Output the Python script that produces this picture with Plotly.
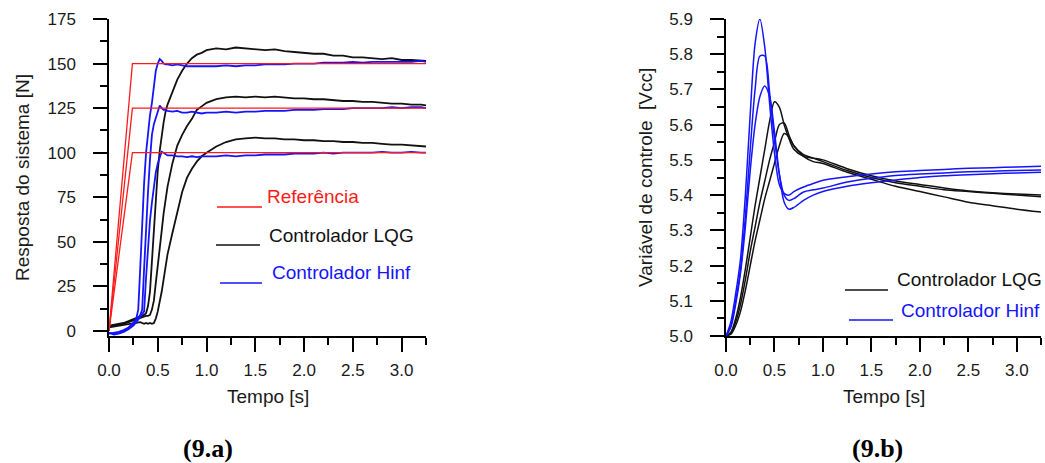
import plotly.graph_objects as go

# ---------------- data: left panel (9.a) system response [N] ----------------
T_RESP = [0.00, 0.05, 0.10, 0.15, 0.20, 0.25, 0.28, 0.30, 0.32, 0.34, 0.36, 0.38, 0.40,
          0.42, 0.44, 0.46, 0.48, 0.50, 0.52, 0.54, 0.56, 0.58, 0.60, 0.65, 0.70, 0.75,
          0.80, 0.85, 0.90, 0.95, 1.00, 1.10, 1.20, 1.30, 1.40, 1.50, 1.60, 1.70, 1.80,
          1.90, 2.00, 2.10, 2.20, 2.30, 2.40, 2.50, 2.60, 2.70, 2.80, 2.90, 3.00, 3.10,
          3.20, 3.25]

REF_T = [0.0, 0.24, 3.25]
REF_LEVELS = [100, 125, 150]

LQG_150 = [3, 3.5, 4, 4.5, 5.5, 6.5, 7, 7.5, 8, 8.5, 9, 10, 14, 22, 38, 58, 76, 90, 101, 110,
           117, 123, 127, 134, 141, 146, 150, 153, 155, 156, 157.5, 158.5, 158, 159, 158.5,
           158, 157.5, 158, 157, 156.5, 156, 155.5, 155.5, 154.5, 154.5, 153.5, 153.5, 153,
           152.5, 153, 152, 152, 151.5, 151.5]
LQG_125 = [2.5, 3, 3.5, 4, 5, 6, 6.5, 7, 7.5, 8, 8, 8.5, 8.5, 9, 12, 17, 27, 38, 47, 56, 66,
           74, 81, 94, 104, 110, 115, 119, 124, 126, 128, 130, 131, 131.5, 131, 131.5, 131,
           131.5, 131, 130.5, 130.5, 130, 130, 129.5, 129, 129, 128.5, 128.5, 128, 127.5,
           127.5, 127, 127, 126.5]
LQG_100 = [2, 2.5, 3, 3.5, 4, 4.5, 5, 5, 5, 4.5, 4, 4.5, 4, 4.5, 4, 4.5, 7, 11, 16, 22, 29,
           37, 43, 55, 67, 78, 86, 91, 95, 98, 100, 103.5, 106, 107.5, 108, 108.5, 108, 108,
           107.5, 107.5, 107, 107, 106.5, 106.5, 106, 106, 105.5, 105.5, 105, 104.5, 104.5,
           104, 103.5, 103.5]

HINF_150 = [-1, -1.5, -1, 0, 1.5, 4, 7, 12, 35, 62, 83, 100, 113, 121, 128, 139, 146, 150,
            152.5, 151.5, 150, 149.5, 149.5, 149, 149.5, 149, 148.5, 148.5, 148.5, 148.5,
            148.5, 148.5, 149, 148.5, 149, 149, 149.5, 149.5, 149.5, 150, 150, 150, 150.5,
            150.5, 150.5, 151, 150.5, 151, 151, 151, 151, 151, 151.5, 151]
HINF_125 = [-1.5, -1, -0.5, 0.5, 2, 4.5, 6, 7.5, 9, 12, 35, 60, 78, 96, 110, 116, 120, 123,
            126.5, 125, 124, 124, 123.5, 123, 123.5, 122.5, 122.5, 123, 122.5, 122, 122.5,
            122.5, 123, 122.5, 123, 123, 123.5, 123.5, 123.5, 124, 124, 124, 124.5, 124.5,
            124.5, 125, 125, 125, 125, 125.5, 125, 125.5, 125.5, 125]
HINF_100 = [-1, -2, -1.5, -0.5, 1, 3, 5, 6.5, 8, 9, 11, 30, 48, 62, 72, 81, 89, 94, 98, 100.5,
            100, 99, 98.5, 98.5, 98, 98, 97.5, 98, 97.5, 98, 98, 98, 98.5, 98, 98.5, 98.5, 99,
            99, 99, 99.5, 99.5, 99.5, 100, 99.5, 100, 100, 100, 100, 100.5, 100, 100, 100.5,
            100, 100]

# ---------------- data: right panel (9.b) control variable [Vcc] ----------------
T_CTRL = [0.0, 0.05, 0.1, 0.15, 0.2, 0.25, 0.3, 0.35, 0.4, 0.45, 0.5, 0.55, 0.6, 0.65, 0.7,
          0.8, 0.9, 1.0, 1.25, 1.5, 1.75, 2.0, 2.25, 2.5, 2.75, 3.0, 3.25]

U_LQG_A = [5.0, 5.01, 5.05, 5.11, 5.19, 5.28, 5.37, 5.45, 5.53, 5.61, 5.665, 5.65, 5.60, 5.56,
           5.53, 5.51, 5.505, 5.50, 5.475, 5.455, 5.44, 5.43, 5.42, 5.412, 5.407, 5.403, 5.40]
U_LQG_B = [5.0, 5.01, 5.04, 5.09, 5.16, 5.24, 5.31, 5.38, 5.44, 5.50, 5.55, 5.60, 5.605, 5.57,
           5.54, 5.515, 5.505, 5.495, 5.47, 5.45, 5.435, 5.425, 5.415, 5.41, 5.405, 5.40, 5.395]
U_LQG_C = [5.0, 5.005, 5.03, 5.07, 5.13, 5.20, 5.27, 5.33, 5.39, 5.44, 5.49, 5.54, 5.575, 5.565,
           5.54, 5.51, 5.495, 5.49, 5.465, 5.445, 5.425, 5.41, 5.395, 5.38, 5.37, 5.36, 5.352]

U_HINF_A = [5.0, 5.04, 5.12, 5.22, 5.40, 5.63, 5.83, 5.90, 5.82, 5.66, 5.52, 5.43, 5.405, 5.40,
            5.41, 5.423, 5.433, 5.442, 5.452, 5.46, 5.466, 5.47, 5.473, 5.476, 5.478, 5.48, 5.482]
U_HINF_B = [5.0, 5.03, 5.10, 5.19, 5.34, 5.53, 5.70, 5.795, 5.795, 5.69, 5.56, 5.46, 5.40, 5.385,
            5.39, 5.409, 5.415, 5.42, 5.437, 5.448, 5.456, 5.46, 5.463, 5.466, 5.468, 5.47, 5.471]
U_HINF_C = [5.0, 5.025, 5.09, 5.18, 5.31, 5.47, 5.60, 5.68, 5.71, 5.68, 5.58, 5.46, 5.38, 5.36,
            5.365, 5.385, 5.40, 5.41, 5.425, 5.435, 5.443, 5.45, 5.455, 5.458, 5.461, 5.463, 5.465]

# ---------------- text ----------------
X_TITLE = "Tempo [s]"
Y_TITLE_A = "Resposta do sistema [N]"
Y_TITLE_B = "Variável de controle  [Vcc]"
LEG_REF = "Referência"
LEG_LQG = "Controlador LQG"
LEG_HINF = "Controlador Hinf"
CAP_A = "(9.a)"
CAP_B = "(9.b)"

RED = "#ff1a1a"
BLACK = "#111111"
BLUE = "#1414ff"
W, H = 1045, 463
FONT = "Liberation Sans, Arial, sans-serif"


def fx(p):
    return p / W


def fy(p):
    return 1 - p / H


fig = go.Figure()

# left panel traces
for ys in (LQG_150, LQG_125, LQG_100):
    fig.add_trace(go.Scatter(x=T_RESP, y=ys, mode="lines", xaxis="x", yaxis="y",
                             line=dict(color=BLACK, width=1.8), showlegend=False))
for ys in (HINF_150, HINF_125, HINF_100):
    fig.add_trace(go.Scatter(x=T_RESP, y=ys, mode="lines", xaxis="x", yaxis="y",
                             line=dict(color=BLUE, width=1.8), showlegend=False))
for lvl in REF_LEVELS:
    fig.add_trace(go.Scatter(x=REF_T, y=[0, lvl, lvl], mode="lines", xaxis="x", yaxis="y",
                             line=dict(color=RED, width=1.3), showlegend=False))

# right panel traces
for ys in (U_LQG_A, U_LQG_B, U_LQG_C):
    fig.add_trace(go.Scatter(x=T_CTRL, y=ys, mode="lines", xaxis="x2", yaxis="y2",
                             line=dict(color=BLACK, width=1.5, shape="spline", smoothing=0.8),
                             showlegend=False))
for ys in (U_HINF_A, U_HINF_B, U_HINF_C):
    fig.add_trace(go.Scatter(x=T_CTRL, y=ys, mode="lines", xaxis="x2", yaxis="y2",
                             line=dict(color=BLUE, width=1.5, shape="spline", smoothing=0.8),
                             showlegend=False))

tickfont = dict(family=FONT, size=17, color="#1a1a1a")


def xaxis_cfg(domain, anchor):
    return dict(domain=domain, anchor=anchor, range=[0, 3.25], tick0=0, dtick=0.5,
                tickformat=".1f", ticks="outside", ticklen=14, tickwidth=1.5,
                tickcolor="black", showline=True, linecolor="black", linewidth=1.5,
                showgrid=False, zeroline=False, tickfont=tickfont, ticklabelstandoff=4,
                automargin=False,
                minor=dict(ticks="outside", ticklen=7, tickwidth=1.5, tickcolor="black",
                           dtick=0.25, tick0=0, showgrid=False),
                fixedrange=True)


def yaxis_cfg(domain, anchor, rng, t0, dtick, mdtick, fmt):
    return dict(domain=domain, anchor=anchor, range=rng, tick0=t0,
                dtick=dtick, tickformat=fmt, ticks="outside", ticklen=14, tickwidth=1.5,
                tickcolor="black", showline=True, linecolor="black", linewidth=1.5,
                showgrid=False, zeroline=False, tickfont=tickfont, ticklabelstandoff=14,
                automargin=False,
                minor=dict(ticks="outside", ticklen=7, tickwidth=1.5, tickcolor="black",
                           dtick=mdtick, tick0=t0, showgrid=False),
                fixedrange=True)


ydom = [fy(336), fy(19)]
fig.update_layout(
    width=W, height=H, margin=dict(l=0, r=0, t=0, b=0, autoexpand=False),
    paper_bgcolor="white", plot_bgcolor="white",
    xaxis=xaxis_cfg([fx(109), fx(426)], "y"),
    yaxis=yaxis_cfg(ydom, "x", [-2.8, 175], 0, 25, 12.5, ""),
    xaxis2=xaxis_cfg([fx(726), fx(1041)], "y2"),
    yaxis2=yaxis_cfg(ydom, "x2", [5.0, 5.9], 5.0, 0.1, 0.05, ".1f"),
    showlegend=False,
)

ann = []
# axis titles
for xc in (268, 884):
    ann.append(dict(text=X_TITLE, x=fx(xc), y=fy(396), xref="paper", yref="paper",
                    xanchor="center", yanchor="middle", showarrow=False,
                    font=dict(family=FONT, size=19, color="#1a1a1a")))
ann.append(dict(text=Y_TITLE_A, x=fx(22), y=fy(178), xref="paper", yref="paper",
                xanchor="center", yanchor="middle", textangle=-90, showarrow=False,
                font=dict(family=FONT, size=19, color="#1a1a1a")))
ann.append(dict(text=Y_TITLE_B, x=fx(645), y=fy(178), xref="paper", yref="paper",
                xanchor="center", yanchor="middle", textangle=-90, showarrow=False,
                font=dict(family=FONT, size=19, color="#1a1a1a")))
# captions
ann.append(dict(text="<b>" + CAP_A + "</b>", x=fx(208), y=fy(448), xref="paper", yref="paper",
                xanchor="center", yanchor="middle", showarrow=False,
                font=dict(family="Liberation Serif, Times New Roman, serif", size=26,
                          color="black")))
ann.append(dict(text="<b>" + CAP_B + "</b>", x=fx(877), y=fy(448), xref="paper", yref="paper",
                xanchor="center", yanchor="middle", showarrow=False,
                font=dict(family="Liberation Serif, Times New Roman, serif", size=26,
                          color="black")))

# legends (line sample + label)
legend_items = [
    (LEG_REF, RED, 217, 262, 207, 265, 197),
    (LEG_LQG, BLACK, 216, 260, 245, 267, 235),
    (LEG_HINF, BLUE, 220, 262, 283, 270, 272),
    (LEG_LQG, BLACK, 845, 888, 290, 895, 279),
    (LEG_HINF, BLUE, 849, 893, 320, 899, 310),
]
shapes = []
for text, col, x0, x1, yl, xt, yt in legend_items:
    shapes.append(dict(type="line", xref="paper", yref="paper", x0=fx(x0), x1=fx(x1),
                       y0=fy(yl), y1=fy(yl), line=dict(color=col, width=1.5)))
    ann.append(dict(text=text, x=fx(xt), y=fy(yt), xref="paper", yref="paper",
                    xanchor="left", yanchor="middle", showarrow=False,
                    font=dict(family=FONT, size=19, color=col)))

fig.update_layout(annotations=ann, shapes=shapes)

fig.write_html("out.html", config={"displayModeBar": False},
               post_script="document.body.style.margin='0';document.body.style.overflow='hidden';")
